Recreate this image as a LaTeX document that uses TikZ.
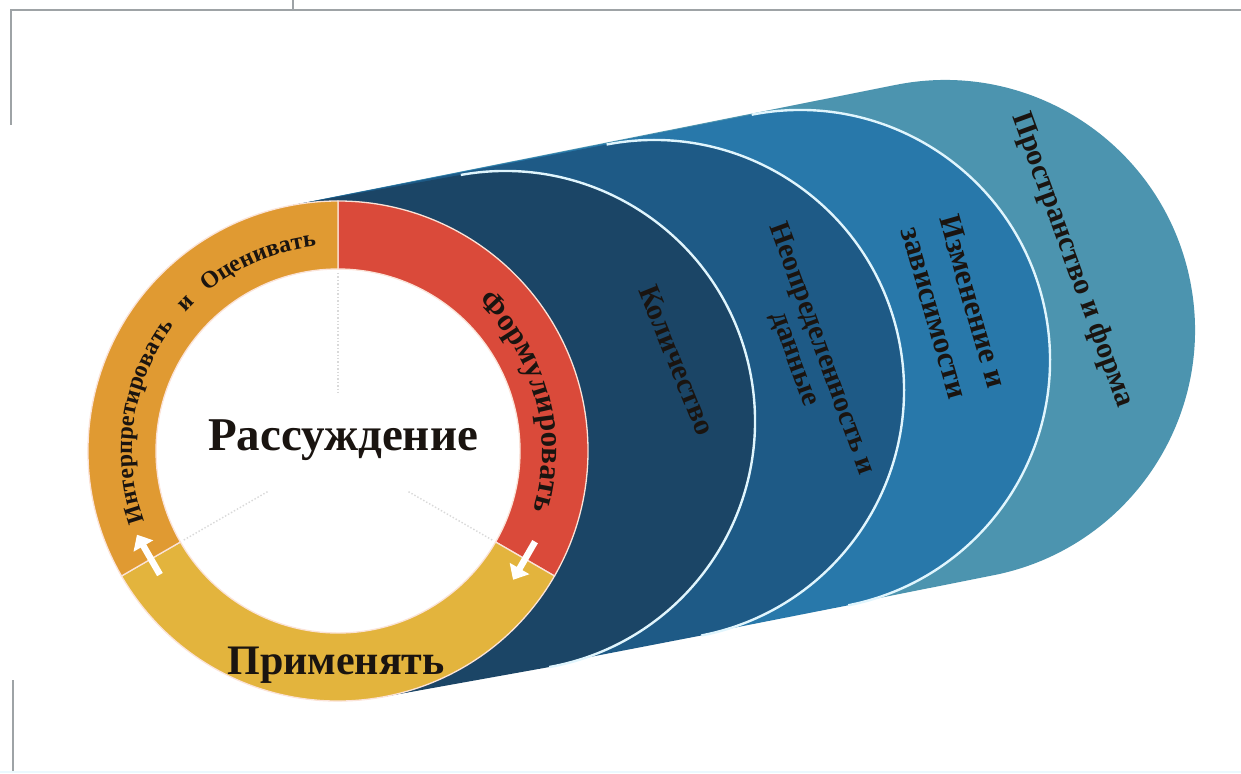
\documentclass[tikz,border=0pt]{standalone}
\usepackage{fontspec}
\setmainfont{Liberation Serif}
\usetikzlibrary{decorations.text,arrows.meta,calc}

\definecolor{ringred}{HTML}{DA4A3A}
\definecolor{ringorange}{HTML}{E09A32}
\definecolor{ringyellow}{HTML}{E3B43D}
\definecolor{layA}{HTML}{1B4566}
\definecolor{layB}{HTML}{1E5A86}
\definecolor{layC}{HTML}{2878AA}
\definecolor{layD}{HTML}{4C94AF}
\definecolor{framegray}{HTML}{9EA3A6}
\definecolor{txt}{HTML}{1A1410}
\definecolor{segline}{HTML}{FBE3D8}

\begin{document}
\begin{tikzpicture}[x=1pt,y=1pt,
  layertext/.style={text=txt, font=\bfseries\fontsize{30}{32}\selectfont, align=center, inner sep=0pt},
  frameline/.style={draw=framegray, line width=2.5pt},
  cyclearrow/.style={draw=white, line width=6.5pt, -{Triangle[width=22pt,length=13pt]}},
  ringseg/.style={draw=segline, line width=1.3pt},
  divline/.style={draw=gray!30, line width=1.4pt, dotted},
  layeredge/.style={draw=white!88!cyan, line width=2.4pt},
]
\useasboundingbox (0,0) rectangle (1241,773);
\fill[white] (0,0) rectangle (1241,773);

% frame lines
\draw[frameline] (11,648) -- (11,763) -- (1241,763);
\draw[frameline] (293,763) -- (293,773);
\draw[frameline] (13,0) -- (13,93);
\draw[draw=cyan!8, line width=2pt] (0,1) -- (1241,1);

% centres
\coordinate (c0) at (338,322);
\coordinate (c1) at (505,352);
\coordinate (c2) at (654,383);
\coordinate (c3) at (800,413);
\coordinate (c4) at (945,443);

% blue layers (back to front)
\fill[layD] ($(c0)+(101.27:250)$) -- ($(c4)+(101.27:250)$) arc[start angle=101.27, end angle=-78.73, radius=250] -- ($(c0)+(-78.73:250)$) -- cycle;
\fill[layC] ($(c0)+(101.14:250)$) -- ($(c3)+(101.14:250)$) arc[start angle=101.14, end angle=-78.86, radius=250] -- ($(c0)+(-78.86:250)$) -- cycle;
\draw[layeredge] ($(c3)+(101.14:250)$) arc[start angle=101.14, end angle=-78.86, radius=250];
\fill[layB] ($(c0)+(100.93:250)$) -- ($(c2)+(100.93:250)$) arc[start angle=100.93, end angle=-79.07, radius=250] -- ($(c0)+(-79.07:250)$) -- cycle;
\draw[layeredge] ($(c2)+(100.93:250)$) arc[start angle=100.93, end angle=-79.07, radius=250];
\fill[layA] ($(c0)+(100.18:250)$) -- ($(c1)+(100.18:250)$) arc[start angle=100.18, end angle=-79.82, radius=250] -- ($(c0)+(-79.82:250)$) -- cycle;
\draw[layeredge] ($(c1)+(100.18:250)$) arc[start angle=100.18, end angle=-79.82, radius=250];

% inner white disc
\fill[white] (c0) circle[radius=182];

% ring segments
\fill[ringred, ringseg] ($(c0)+(90:250)$) arc[start angle=90, end angle=-30, radius=250] -- ($(c0)+(-30:182)$) arc[start angle=-30, end angle=90, radius=182] -- cycle;
\fill[ringyellow, ringseg] ($(c0)+(-30:250)$) arc[start angle=-30, end angle=-150, radius=250] -- ($(c0)+(-150:182)$) arc[start angle=-150, end angle=-30, radius=182] -- cycle;
\fill[ringorange, ringseg] ($(c0)+(210:250)$) arc[start angle=210, end angle=90, radius=250] -- ($(c0)+(90:182)$) arc[start angle=90, end angle=210, radius=182] -- cycle;

% dotted dividers inside
\draw[divline] ($(c0)+(90:178)$) -- ($(c0)+(90:58)$);
\draw[divline] ($(c0)+(210:178)$) -- ($(c0)+(210:80)$);
\draw[divline] ($(c0)+(-30:178)$) -- ($(c0)+(-30:80)$);

% cycle arrows
\coordinate (ra1) at ($(c0)+(-30:216)+(60:20)$);
\coordinate (ra2) at ($(c0)+(-30:216)+(240:24)$);
\coordinate (la1) at ($(c0)+(210:216)+(300:18)$);
\coordinate (la2) at ($(c0)+(210:216)+(120:28)$);
\draw[cyclearrow] (ra1) -- (ra2);
\draw[cyclearrow] (la1) -- (la2);

% ring texts
\path[decorate, decoration={text along path, text align=center, text color=txt,
  text={|\bfseries\fontsize{31}{31}\selectfont|Формулировать}}]
  ($(c0)+(65:204)$) arc[start angle=65, end angle=-35, radius=204];
\path[decorate, decoration={text along path, text align=fit to path stretching spaces, text color=txt,
  text={|\bfseries\fontsize{24}{24}\selectfont|Интерпретировать и Оценивать}}]
  ($(c0)+(200:206)$) arc[start angle=200, end angle=96, radius=206];

\node[text=txt, font=\bfseries\fontsize{47}{50}\selectfont] (reason) at (343,333) {Рассуждение};
\node[text=txt, font=\bfseries\fontsize{42}{44}\selectfont] (apply) at (336,108) {Применять};

% layer texts
\node[layertext, rotate=-68] (qty) at (677,413) {Количество};
\node[layertext, rotate=-70, font=\bfseries\fontsize{29}{29}\selectfont] (unc) at (808,419) {Неопределенность и\\данные};
\node[layertext, rotate=-74, font=\bfseries\fontsize{31}{40}\selectfont] (chg) at (954,466) {Изменение и\\зависимости};
\node[layertext, rotate=-70] (space) at (1072,513) {Пространство и форма};
\end{tikzpicture}
\end{document}
